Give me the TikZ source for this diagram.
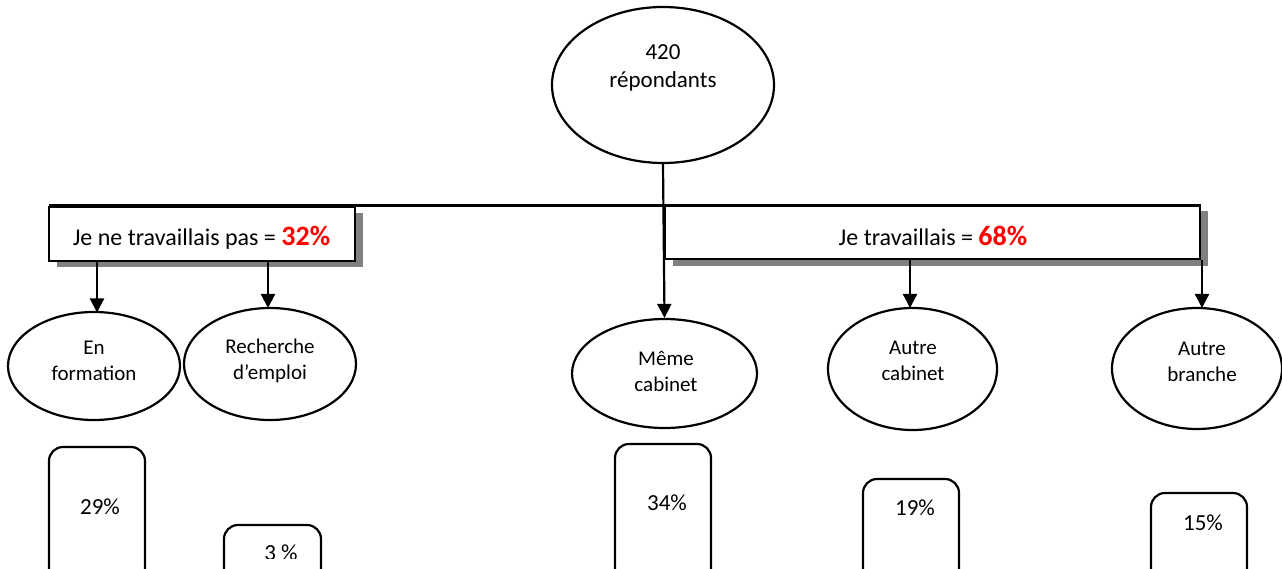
\documentclass[tikz,border=0pt]{standalone}
\usepackage{fontspec}
\setmainfont{Carlito}
\usetikzlibrary{arrows.meta,shapes.geometric}
\definecolor{shadowgray}{RGB}{128,128,128}
\definecolor{pctred}{RGB}{255,0,0}
\tikzset{
  oval/.style={ellipse,draw=black,line width=2.2pt,inner sep=0pt},
  lbl/.style={align=center,inner sep=0pt,font=\fontsize{21}{26}\selectfont},
  pct/.style={inner sep=0pt,font=\fontsize{23}{27}\selectfont},
  bar/.style={draw=black,line width=2.2pt,rounded corners=14pt},
  catbox/.style={draw=black,line width=2.2pt,fill=white,inner sep=0pt},
  boxshadow/.style={fill=shadowgray,draw=none},
  conn/.style={line width=2.2pt,-{Triangle[width=14pt,length=14pt]}},
  boxtext/.style={inner sep=0pt,font=\fontsize{24}{28}\selectfont}
}
\begin{document}
\begin{tikzpicture}[x=1pt,y=-1pt]
\useasboundingbox (0,0) rectangle (1282,569);
% top ellipse
\node[oval,minimum width=222pt,minimum height=156pt] (top) at (663,85) {};
\node[lbl,font=\fontsize{23}{28}\selectfont] (toptxt) at (663,68) {420\\répondants};
% shadows
\fill[boxshadow] (57,213) rectangle (363,267);
\fill[boxshadow] (673,211) rectangle (1208,266);
% boxes
\node[catbox,minimum width=306pt,minimum height=54pt] (lbox) at (202,234) {};
\node[catbox,minimum width=535pt,minimum height=54pt] (rbox) at (932.5,232) {};
\node[boxtext] (ltxt) at (201.5,237.5) {Je ne travaillais pas = {\color{pctred}\fontsize{28}{30}\selectfont\bfseries 32\%}};
\node[boxtext] (rtxt) at (933,236) {Je travaillais = {\color{pctred}\fontsize{28}{30}\selectfont\bfseries 68\%}};
% horizontal line
\coordinate (hl) at (49,205.5);
\coordinate (hr) at (1200,205.5);
\draw[line width=3pt] (hl) -- (hr);
% ellipses
\node[oval,minimum width=172pt,minimum height=108pt] (enf) at (94,366) {};
\node[oval,minimum width=172pt,minimum height=112pt] (rech) at (270,364) {};
\node[oval,minimum width=185pt,minimum height=109pt] (meme) at (664.5,373.5) {};
\node[oval,minimum width=169pt,minimum height=122pt] (acab) at (912.5,369) {};
\node[oval,minimum width=170pt,minimum height=121pt] (abr) at (1197,368.5) {};
\node[lbl] (enft) at (94,361) {En\\formation};
\node[lbl] (recht) at (270,361) {Recherche\\d’emploi};
\node[lbl] (memet) at (666,371) {Même\\cabinet};
\node[lbl] (acabt) at (913,361) {Autre\\cabinet};
\node[lbl] (abrt) at (1202,362) {Autre\\branche};
% connectors
\draw[conn] (top.south) -- (meme.north);
\draw[conn] (lbox.south -| 97,0) -- (97,312.5) coordinate (enfin);
\draw[conn] (lbox.south -| 268,0) -- (268,308) coordinate (rechin);
\draw[conn] (rbox.south -| 910,0) -- (910,308) coordinate (acabin);
\draw[conn] (rbox.south -| 1202,0) -- (1202,308) coordinate (abrin);
% bars
\draw[bar] (49,580) -- (49,447) -- (145,447) -- (145,580);
\draw[bar] (224,580) -- (224,525) -- (321,525) -- (321,580);
\draw[bar] (615,580) -- (615,444) -- (711,444) -- (711,580);
\draw[bar] (863,580) -- (863,479) -- (959,479) -- (959,580);
\draw[bar] (1151,580) -- (1151,493) -- (1247,493) -- (1247,580);
\node[pct] (p29) at (100,507) {29\%};
\begin{scope}
\clip (224,525) rectangle (321,558);
\node[pct,anchor=base] (p3) at (281,560.5) {3 \%};
\end{scope}
\node[pct] (p34) at (667,503) {34\%};
\node[pct] (p19) at (915,508) {19\%};
\node[pct] (p15) at (1203,523) {15\%};
\end{tikzpicture}
\end{document}
